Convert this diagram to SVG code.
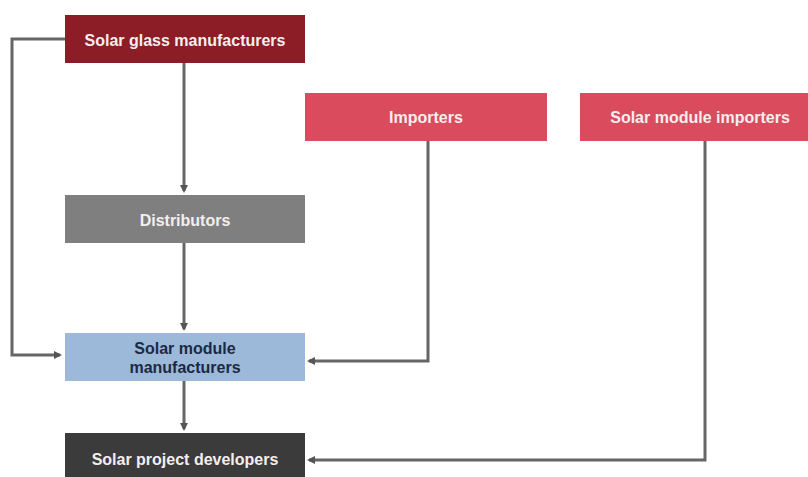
<svg xmlns="http://www.w3.org/2000/svg" width="808" height="477" viewBox="0 0 808 477">
<style>
text{font-family:"Liberation Sans",Arial,sans-serif;font-weight:bold;font-size:16px;text-anchor:middle;dominant-baseline:central}
.w{fill:#f4eeee}
.c{fill:none;stroke:#666;stroke-width:3}
</style>
<defs>
<marker id="a" markerWidth="8" markerHeight="8" refX="6" refY="4" orient="auto" markerUnits="userSpaceOnUse">
<path d="M0,0 L8,4 L0,8 z" fill="#555"/>
</marker>
</defs>
<rect width="808" height="477" fill="#fff"/>
<g id="connectors">
<path class="c" d="M65,39 H12 V355 H60" marker-end="url(#a)"/>
<path class="c" d="M184,63 V191" marker-end="url(#a)"/>
<path class="c" d="M184,243 V329" marker-end="url(#a)"/>
<path class="c" d="M184,381 V429" marker-end="url(#a)"/>
<path class="c" d="M428,141 V361 H309" marker-end="url(#a)"/>
<path class="c" d="M705,141 V460 H309" marker-end="url(#a)"/>
</g>
<g id="glass">
<rect x="65" y="15" width="240" height="48" fill="#8c1c26"/>
<text class="w" x="185" y="40">Solar glass manufacturers</text>
</g>
<g id="distributors">
<rect x="65" y="195" width="240" height="48" fill="#7f7f7f"/>
<text class="w" x="185" y="220">Distributors</text>
</g>
<g id="module-manufacturers">
<rect x="65" y="333" width="240" height="48" fill="#9cb9d9"/>
<text x="185" y="348" fill="#1b2a44">Solar module</text>
<text x="185" y="367" fill="#1b2a44">manufacturers</text>
</g>
<g id="developers">
<rect x="65" y="433" width="240" height="48" fill="#3b3b3b"/>
<text class="w" x="185" y="459">Solar project developers</text>
</g>
<g id="importers">
<rect x="305" y="93" width="242" height="48" fill="#da4b5e"/>
<text class="w" x="426" y="117">Importers</text>
</g>
<g id="module-importers">
<rect x="580" y="93" width="228" height="48" fill="#da4b5e"/>
<text class="w" x="700" y="117">Solar module importers</text>
</g>
</svg>
